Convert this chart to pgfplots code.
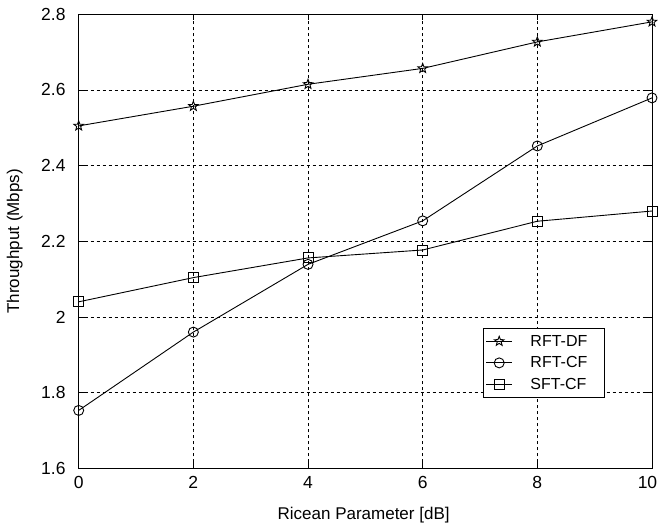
\documentclass[border=0pt]{standalone}
\usepackage{fontspec}
\setmainfont{Liberation Sans}
\usepackage{pgfplots}
\pgfplotsset{compat=1.18}
\pgfdeclareplotmark{pentagram}{%
  \pgfpathmoveto{\pgfpointpolar{90}{\pgfplotmarksize}}%
  \pgfpathlineto{\pgfpointpolar{126}{0.42\pgfplotmarksize}}%
  \pgfpathlineto{\pgfpointpolar{162}{\pgfplotmarksize}}%
  \pgfpathlineto{\pgfpointpolar{198}{0.42\pgfplotmarksize}}%
  \pgfpathlineto{\pgfpointpolar{234}{\pgfplotmarksize}}%
  \pgfpathlineto{\pgfpointpolar{270}{0.42\pgfplotmarksize}}%
  \pgfpathlineto{\pgfpointpolar{306}{\pgfplotmarksize}}%
  \pgfpathlineto{\pgfpointpolar{342}{0.42\pgfplotmarksize}}%
  \pgfpathlineto{\pgfpointpolar{18}{\pgfplotmarksize}}%
  \pgfpathlineto{\pgfpointpolar{54}{0.42\pgfplotmarksize}}%
  \pgfpathclose
  \pgfusepathqstroke
}
\begin{document}
\begin{tikzpicture}
\path[use as bounding box] (-78.7pt,-57.7pt) rectangle (580.3pt,468.3pt);
\begin{axis}[
  at={(0,0)}, anchor=south west,
  scale only axis,
  width=573.3pt, height=454pt,
  xmin=0, xmax=10, ymin=1.6, ymax=2.8,
  xtick={0,2,4,6,8,10},
  ytick={1.6,1.8,2,2.2,2.4,2.6,2.8},
  yticklabels={1.6,1.8,2,2.2,2.4,2.6,2.8},
  xticklabels={0,2,4,6,8,{\kern-9pt 10}},
  tick align=inside,
  tick pos=both,
  major tick length=6pt,
  tick style={black, line width=0.9pt},
  axis line style={black, line width=1pt},
  grid=major,
  major grid style={black, line width=0.9pt, dash pattern=on 3.5pt off 2.5pt},
  ticklabel style={font=\fontsize{17.5}{20}\selectfont},
  yticklabel style={anchor=east, inner sep=0pt, xshift=-13pt},
  xticklabel style={anchor=north, inner sep=0pt, yshift=-8pt},
  label style={font=\fontsize{17}{20}\selectfont},
  xlabel={Ricean Parameter [dB]},
  ylabel={Throughput (Mbps)},
  xlabel style={at={(axis description cs:0.497,0)}, anchor=center, yshift=-46.7pt},
  ylabel style={at={(axis description cs:0,0.5)}, anchor=center, yshift=64pt},
  legend style={at={(0.706,0.31)}, anchor=north west, draw=black, line width=1pt,
    font=\fontsize{16}{19}\selectfont, row sep=0pt, inner xsep=2pt, inner ysep=2.5pt,
    nodes={inner xsep=6pt, inner ysep=4.5pt},
    /tikz/every odd column/.append style={column sep=12pt}},
  legend cell align=left,
  legend image code/.code={\draw[mark repeat=2,mark phase=2] plot coordinates {(0cm,0cm)(0.45cm,0cm)(0.9cm,0cm)};},
  every axis plot/.append style={black, line width=0.9pt, mark options={solid, black, line width=0.9pt}},
]
\addplot[mark=pentagram, mark size=5pt] coordinates {
 (0,2.505) (2,2.557) (4,2.615) (6,2.657) (8,2.727) (10,2.780)};
\addplot[mark=o, mark size=5pt] coordinates {
 (0,1.753) (2,1.960) (4,2.139) (6,2.254) (8,2.452) (10,2.579)};
\addplot[mark=square, mark size=5pt] coordinates {
 (0,2.040) (2,2.104) (4,2.156) (6,2.177) (8,2.253) (10,2.280)};
\legend{RFT-DF\hspace*{9pt}, RFT-CF\hspace*{9pt}, SFT-CF\hspace*{9pt}}
\end{axis}
\end{tikzpicture}
\end{document}
